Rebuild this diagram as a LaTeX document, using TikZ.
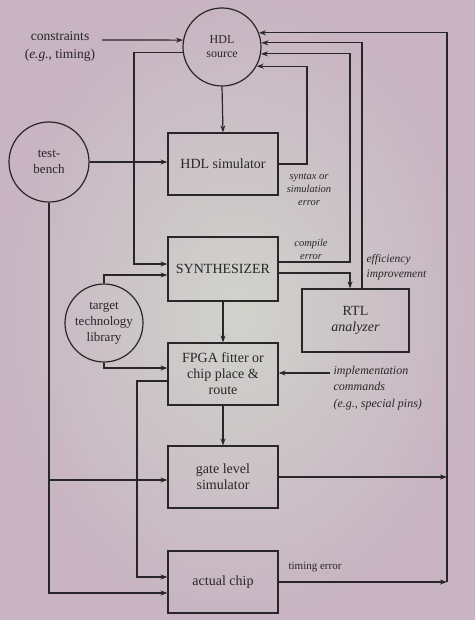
\documentclass[tikz,border=0pt]{standalone}
\usepackage{fontspec}
\setmainfont{Liberation Serif}
\usetikzlibrary{arrows.meta,calc}
\definecolor{ink}{RGB}{40,38,40}
\definecolor{bgin}{RGB}{208,211,204}
\definecolor{bgout}{RGB}{200,180,194}
\tikzset{
  every picture/.style={line width=1.2pt},
  arr/.style={draw=ink,-{Stealth[length=7pt,width=5pt]}},
  ln/.style={draw=ink},
  boxn/.style={draw=ink,rectangle,minimum width=110pt,minimum height=62pt,align=center,text=ink,font=\fontsize{14}{16}\selectfont,inner sep=2pt},
  circn/.style={draw=ink,circle,align=center,text=ink,inner sep=0pt},
  lab/.style={text=ink,font=\fontsize{10.5}{13}\selectfont\itshape,align=center,inner sep=0pt},
}
\begin{document}
\begin{tikzpicture}[x=1pt,y=-1pt]
\useasboundingbox (0,0) rectangle (475,620);
\shade[inner color=bgin,outer color=bgout] (0,0) rectangle (475,620);

% nodes
\node[circn,minimum size=78pt,font=\fontsize{12}{14}\selectfont] (hdl) at (222,47) {HDL\\source};
\node[circn,minimum size=80pt,font=\fontsize{13}{16}\selectfont] (tb) at (49,162) {test-\\bench};
\node[circn,minimum size=78pt,font=\fontsize{13}{16}\selectfont] (lib) at (104,323) {target\\technology\\library};
\node[boxn] (hdlsim) at (223,164) {HDL simulator};
\node[boxn,minimum height=64pt] (synth) at (223,269) {SYNTHESIZER};
\node[boxn] (fpga) at (223,374) {FPGA fitter or\\chip place \&\\route};
\node[boxn] (gate) at (223,477) {gate level\\simulator};
\node[boxn] (chip) at (223,582) {actual chip};
\node[boxn,minimum width=107pt,minimum height=63pt] (rtl) at (355.5,320.5) {RTL\\\textit{analyzer}};

\node[text=ink,align=center,font=\fontsize{13.5}{18}\selectfont] (cons) at (60,46) {constraints\\(\textit{e.g.}, timing)};
\node[lab] (synerr) at (309,190) {syntax or\\simulation\\error};
\node[lab] (comperr) at (311,249) {compile\\error};
\node[lab,align=left,anchor=west,font=\fontsize{11.5}{15}\selectfont\itshape] (eff) at (366,267) {efficiency\\improvement};
\node[lab,align=left,anchor=west,font=\fontsize{12}{16.5}\selectfont\itshape] (impl) at (333,388) {implementation\\commands\\(e.g., special pins)};
\node[text=ink,font=\fontsize{11}{13}\selectfont,inner sep=0pt] (terr) at (315,567) {timing error};

\coordinate (c0) at (102,40);
\coordinate (i0) at (330,373);

% connectors
\draw[arr] (c0) -- (hdl.170);
\draw[arr] (hdl.188) -| (134,264) -- (synth.west |- 0,264);
\draw[arr] (hdl.south) -- (hdlsim.north);
\draw[arr] (tb.east) -- (hdlsim.west |- tb.east);
\draw[arr] (tb.south) |- (chip.west |- 0,593);
\draw[arr] (tb.south |- 0,480) -- (gate.west |- 0,480);
\draw[arr] (hdlsim.east) -- (hdlsim.east -| 307,0) |- (hdl.-29);
\draw[arr] (synth.east |- 0,262) -- (350,262) |- (hdl.-10);
\draw[arr] (synth.east |- 0,273) -| (rtl.north -| 350,0);
\draw[arr] (rtl.north -| 362,0) |- (hdl.6);
\draw[arr] (lib.north) |- (synth.west |- 0,275);
\draw[arr] (lib.south) |- (fpga.west |- 0,368);
\draw[arr] (synth.south) -- (fpga.north);
\draw[arr] (i0) -- (fpga.east |- i0);
\draw[arr] (fpga.west |- 0,381) -| (137,577) -- (chip.west |- 0,577);
\draw[arr] (fpga.south) -- (gate.north);
\draw[arr] (gate.east) -- (gate.east -| 447,0);
\draw[arr] (chip.east) -- (chip.east -| 447,0);
\draw[arr] (chip.east -| 447,0) |- (hdl.21);
\end{tikzpicture}
\end{document}
